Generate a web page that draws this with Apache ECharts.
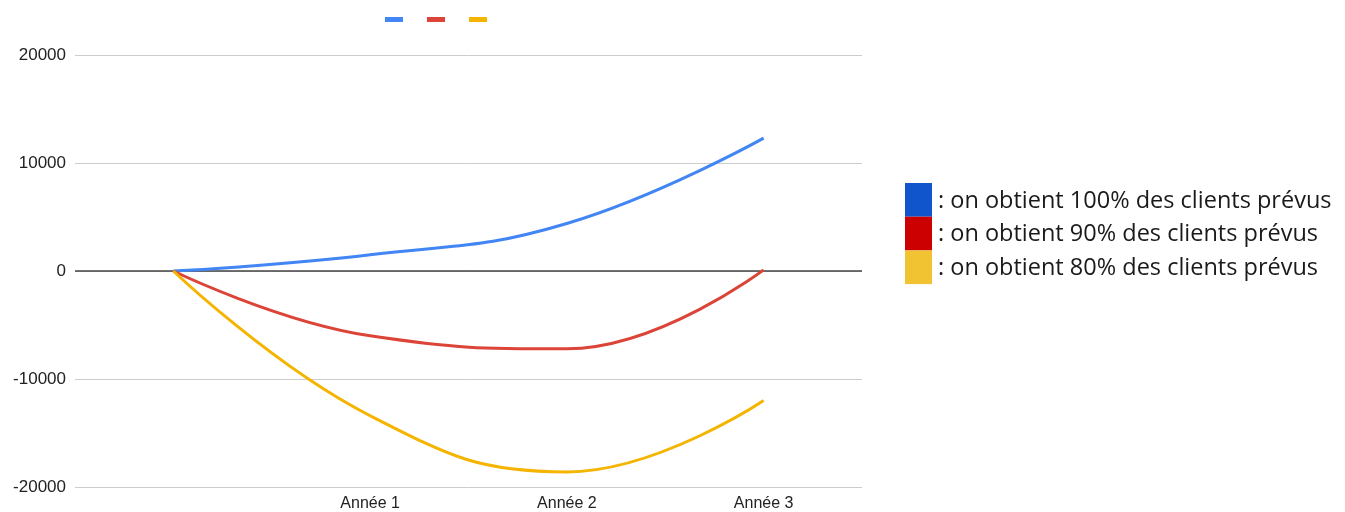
<!DOCTYPE html>
<html>
<head>
<meta charset="utf-8">
<script src="https://cdn.jsdelivr.net/npm/echarts@6/dist/echarts.min.js"></script>
<style>
  html, body { margin: 0; padding: 0; background: #fff; }
  #main { width: 1345px; height: 512px; }
</style>
</head>
<body>
<div id="main"></div>
<script>
// categories (first one has no label)
const years = ['', 'Année 1', 'Année 2', 'Année 3'];

// series values
const clients100 = [0, 1500, 4400, 12300];
const clients90 = [0, -6000, -7200, 100];
const clients80 = [0, -13400, -18600, -12000];

const seriesNames = ['100%', '90%', '80%'];
const lineColors = ['#4285F4', '#DB4437', '#F4B400'];

// legend on the right (colored boxes + text)
const legendLabels = [
    ': on obtient 100% des clients prévus',
    ': on obtient 90% des clients prévus',
    ': on obtient 80% des clients prévus'
];
const legendBoxColors = ['#1155CC', '#CC0000', '#F1C232'];

const chart = echarts.init(document.getElementById('main'));

const rowH = 33.7;
const legendGraphics = [];
legendLabels.forEach((label, i) => {
    legendGraphics.push({
        type: 'rect',
        left: 905,
        top: 183 + i * rowH,
        shape: { width: 27, height: rowH },
        style: { fill: legendBoxColors[i] }
    });
    legendGraphics.push({
        type: 'text',
        x: 938,
        y: 201 + i * rowH,
        style: {
            text: label,
            fill: '#1a1a1a',
            font: '23.5px "Open Sans", sans-serif',
            textVerticalAlign: 'middle'
        }
    });
});

const series = [clients100, clients90, clients80].map((data, i) => ({
    name: seriesNames[i],
    type: 'line',
    data: data,
    smooth: 0.45,
    showSymbol: false,
    symbol: 'none',
    lineStyle: { width: 3, color: lineColors[i] },
    itemStyle: { color: lineColors[i] },
    z: 3
}));

// dark zero line
series[0].markLine = {
    silent: true,
    symbol: 'none',
    label: { show: false },
    lineStyle: { color: '#444', width: 1.5, type: 'solid' },
    data: [{ yAxis: 0 }],
    z: 1
};

chart.setOption({
    animation: false,
    legend: {
        top: 12,
        left: 380,
        icon: 'rect',
        itemWidth: 18,
        itemHeight: 5,
        itemGap: 24,
        formatter: () => '',
        textStyle: { fontSize: 1 },
        data: seriesNames
    },
    grid: { left: 75, right: 483, top: 55, bottom: 25, containLabel: false },
    xAxis: {
        type: 'category',
        data: years,
        boundaryGap: true,
        axisLine: { show: false },
        axisTick: { show: false },
        axisLabel: {
            color: '#222',
            fontSize: 16,
            fontFamily: '"Liberation Sans", Arial, sans-serif',
            margin: 9
        }
    },
    yAxis: {
        type: 'value',
        min: -20000,
        max: 20000,
        interval: 10000,
        axisLine: { show: false },
        axisTick: { show: false },
        axisLabel: {
            color: '#222',
            fontSize: 17,
            fontFamily: '"Liberation Sans", Arial, sans-serif',
            margin: 9,
            formatter: v => String(v)
        },
        splitLine: { lineStyle: { color: '#cccccc', width: 1 } }
    },
    graphic: legendGraphics,
    series: series
});
</script>
</body>
</html>
